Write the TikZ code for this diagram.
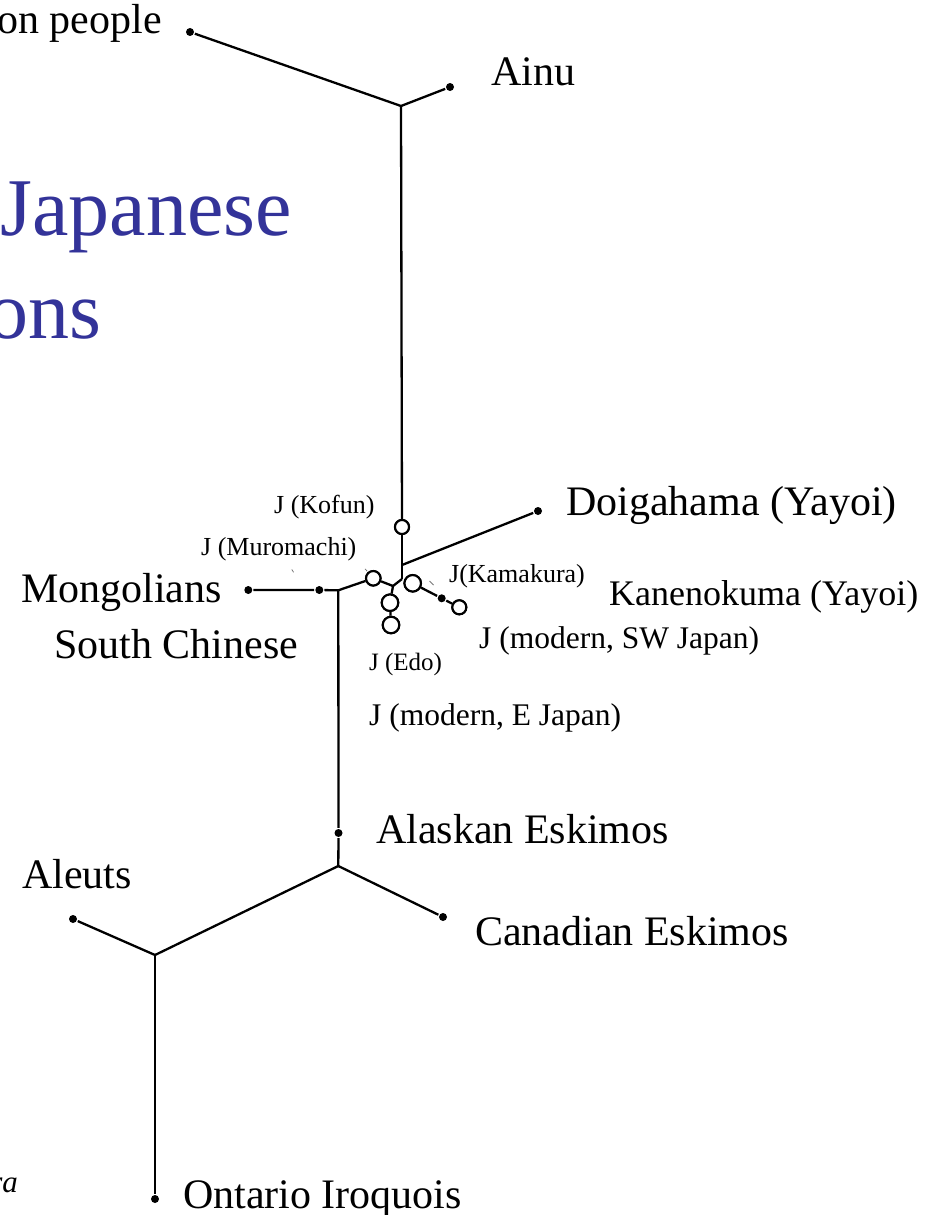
\documentclass[tikz,border=0pt]{standalone}
\usepackage{fontspec}
\setmainfont{Liberation Serif}
\definecolor{titleblue}{RGB}{51,51,153}
\definecolor{leadgray}{RGB}{120,120,120}
\begin{document}
\begin{tikzpicture}[x=1pt,y=-1pt,line width=2.3pt,
  dotnode/.style={circle,fill=black,inner sep=0pt,minimum size=8pt},
  ring/.style={circle,draw,fill=white,line width=2.1pt,inner sep=0pt,minimum size=14pt},
  bigring/.style={ring,minimum size=16.5pt},
  biglab/.style={inner sep=0pt,font=\fontsize{42}{48}\selectfont},
  midlab/.style={inner sep=0pt,font=\fontsize{31.5}{36}\selectfont},
  kanlab/.style={inner sep=0pt,font=\fontsize{36}{42}\selectfont},
  smalllab/.style={inner sep=0pt,font=\fontsize{26}{30}\selectfont},
  titlelab/.style={inner sep=0pt,text=titleblue,font=\fontsize{82}{90}\selectfont},
  leader/.style={draw=leadgray,line width=0.8pt}]
\useasboundingbox (0,0) rectangle (933,1215);

% title fragments
\node[titlelab,anchor=base east] (title1) at (293,235) {Japanese};
\node[titlelab,anchor=base east] (title2) at (103,338) {ons};
\node[inner sep=0pt,anchor=base east,font=\fontsize{31}{36}\selectfont\itshape] (credit) at (19,1192) {ra};

% tree points
\node[dotnode] (jomon) at (190,32) {};
\coordinate (t1) at (401,106);
\node[dotnode] (ainu) at (450,87) {};
\node[ring] (kofun) at (402,527) {};
\coordinate (d0) at (402,565);
\node[dotnode] (doi) at (538,511) {};
\coordinate (c0) at (402,579);
\coordinate (e0) at (393,586);
\node[ring,minimum size=14.5pt] (muro) at (373.3,578.3) {};
\node[bigring] (edo1) at (390,602.7) {};
\node[bigring] (edo2) at (391,625) {};
\node[bigring] (kama) at (412.7,583.3) {};
\node[dotnode] (swdot) at (441.7,598.3) {};
\node[ring] (swring) at (459.3,607.3) {};
\coordinate (lj) at (338.3,590.3);
\node[dotnode] (mdot2) at (319.3,590) {};
\node[dotnode] (mong) at (248.3,590) {};
\node[dotnode] (alaska) at (338.5,833) {};
\coordinate (ej) at (338.3,866);
\node[dotnode] (canada) at (443,917) {};
\coordinate (lowj) at (155,955);
\node[dotnode] (aleut) at (73,919) {};
\node[dotnode] (ontario) at (155,1199) {};

% connectors
\draw (jomon) -- (t1) -- (ainu);
\draw (t1) -- (kofun);
\draw (kofun) -- (d0) -- (c0);
\draw (d0) -- (doi);
\draw (c0) -- (e0);
\draw (e0) -- (muro);
\draw (e0) -- (edo1);
\draw (edo1) -- (edo2);
\draw (kama) -- (swdot) -- (swring);
\draw (muro) -- (lj);
\draw (lj) -- (mdot2) -- (mong);
\draw (lj) -- (alaska) -- (ej);
\draw (ej) -- (canada);
\draw (ej) -- (lowj);
\draw (lowj) -- (aleut);
\draw (lowj) -- (ontario);
% redraw rings on top
\node[ring] at (kofun) {};
\node[ring,minimum size=14.5pt] at (muro) {};
\node[bigring] at (edo1) {};
\node[bigring] at (edo2) {};
\node[bigring] at (kama) {};
\node[ring] at (swring) {};

% small leader remnants
\coordinate (la1) at (291.8,569.5); \coordinate (lb1) at (293.6,572.3);
\coordinate (la2) at (365,568.8); \coordinate (lb2) at (367.2,571.2);
\coordinate (la3) at (429.5,581); \coordinate (lb3) at (433.5,585);
\draw[leader] (la1) -- (lb1);
\draw[leader] (la2) -- (lb2);
\draw[leader] (la3) -- (lb3);

% labels
\node[biglab,anchor=base east] (ljomon) at (163,34) {on people};
\node[biglab,anchor=base west] (lainu) at (490,85) {Ainu};
\node[smalllab,anchor=base west] (lkofun) at (273,513) {J (Kofun)};
\node[biglab,anchor=base west] (ldoi) at (565,515) {Doigahama (Yayoi)};
\node[smalllab,anchor=base west] (lmuro) at (200,555) {J (Muromachi)};
\node[smalllab,anchor=base west] (lkama) at (448,582) {J(Kamakura)};
\node[biglab,anchor=base west] (lmong) at (20,602) {Mongolians};
\node[kanlab,anchor=base west] (lkan) at (608,605) {Kanenokuma (Yayoi)};
\node[midlab,anchor=base west] (lsw) at (478,648) {J (modern, SW Japan)};
\node[biglab,anchor=base west] (lsc) at (53,658) {South Chinese};
\node[smalllab,anchor=base west,font=\fontsize{25}{30}\selectfont] (ledo) at (368,670) {J (Edo)};
\node[midlab,anchor=base west] (le) at (368,725) {J (modern, E Japan)};
\node[biglab,anchor=base west] (lalaska) at (375,843) {Alaskan Eskimos};
\node[biglab,anchor=base west] (laleut) at (21,888) {Aleuts};
\node[biglab,anchor=base west] (lcanada) at (474,945) {Canadian Eskimos};
\node[biglab,anchor=base west] (lontario) at (182,1208) {Ontario Iroquois};
\end{tikzpicture}
\end{document}
